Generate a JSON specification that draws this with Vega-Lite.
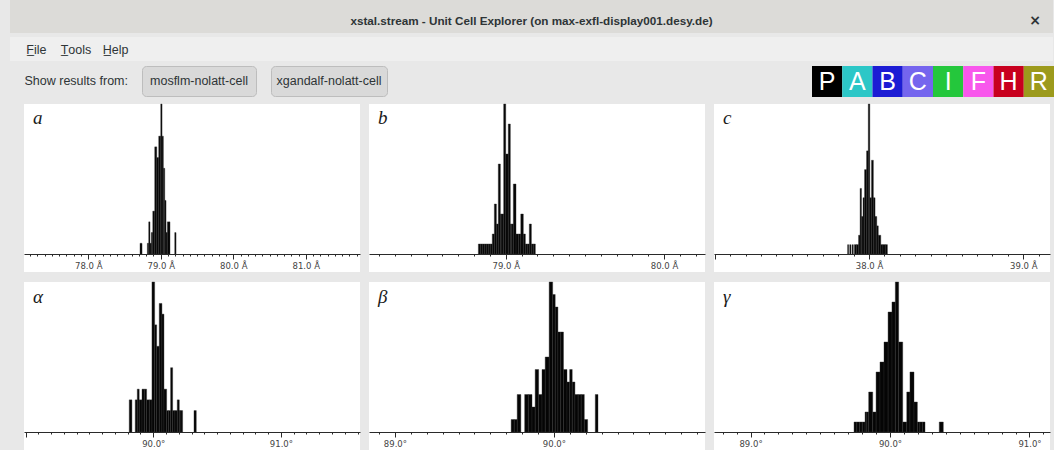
{
  "$schema": "https://vega.github.io/schema/vega-lite/v6.json",
  "background": "#e8e8e8",
  "padding": {"left": 10, "top": 0, "right": 0, "bottom": 0},
  "spacing": 4,
  "config": {"view": {"stroke": null}, "font": "Liberation Sans", "rect": {"fill": "#050505", "stroke": "#2e2e2e", "strokeWidth": 0.4}},
  "datasets": {
    "hist": [
      {"panel":"a","lo":78.714,"hi":78.742,"n":1},
      {"panel":"a","lo":78.815,"hi":78.834,"n":1},
      {"panel":"a","lo":78.834,"hi":78.852,"n":3},
      {"panel":"a","lo":78.852,"hi":78.870,"n":1},
      {"panel":"a","lo":78.870,"hi":78.890,"n":2},
      {"panel":"a","lo":78.890,"hi":78.917,"n":4},
      {"panel":"a","lo":78.917,"hi":78.945,"n":10},
      {"panel":"a","lo":78.945,"hi":78.972,"n":9},
      {"panel":"a","lo":78.972,"hi":79.000,"n":11},
      {"panel":"a","lo":79.000,"hi":79.018,"n":14},
      {"panel":"a","lo":79.018,"hi":79.036,"n":11},
      {"panel":"a","lo":79.036,"hi":79.055,"n":8},
      {"panel":"a","lo":79.055,"hi":79.073,"n":5},
      {"panel":"a","lo":79.073,"hi":79.091,"n":2},
      {"panel":"a","lo":79.091,"hi":79.128,"n":3},
      {"panel":"a","lo":79.193,"hi":79.211,"n":2},

      {"panel":"b","lo":78.827,"hi":78.840,"n":1},
      {"panel":"b","lo":78.840,"hi":78.852,"n":1},
      {"panel":"b","lo":78.852,"hi":78.865,"n":1},
      {"panel":"b","lo":78.865,"hi":78.877,"n":1},
      {"panel":"b","lo":78.877,"hi":78.890,"n":1},
      {"panel":"b","lo":78.890,"hi":78.902,"n":1},
      {"panel":"b","lo":78.902,"hi":78.915,"n":1},
      {"panel":"b","lo":78.915,"hi":78.928,"n":2},
      {"panel":"b","lo":78.928,"hi":78.941,"n":5},
      {"panel":"b","lo":78.941,"hi":78.953,"n":3},
      {"panel":"b","lo":78.953,"hi":78.966,"n":9},
      {"panel":"b","lo":78.966,"hi":78.976,"n":4},
      {"panel":"b","lo":78.976,"hi":78.987,"n":4},
      {"panel":"b","lo":78.987,"hi":79.000,"n":15},
      {"panel":"b","lo":79.000,"hi":79.016,"n":10},
      {"panel":"b","lo":79.016,"hi":79.029,"n":13},
      {"panel":"b","lo":79.029,"hi":79.038,"n":3},
      {"panel":"b","lo":79.038,"hi":79.048,"n":3},
      {"panel":"b","lo":79.048,"hi":79.065,"n":7},
      {"panel":"b","lo":79.065,"hi":79.082,"n":2},
      {"panel":"b","lo":79.082,"hi":79.095,"n":2},
      {"panel":"b","lo":79.095,"hi":79.111,"n":4},
      {"panel":"b","lo":79.111,"hi":79.124,"n":2},
      {"panel":"b","lo":79.124,"hi":79.136,"n":1},
      {"panel":"b","lo":79.136,"hi":79.149,"n":1},
      {"panel":"b","lo":79.149,"hi":79.162,"n":3},
      {"panel":"b","lo":79.162,"hi":79.174,"n":1},
      {"panel":"b","lo":79.174,"hi":79.187,"n":1},

      {"panel":"c","lo":37.861,"hi":37.868,"n":1},
      {"panel":"c","lo":37.875,"hi":37.883,"n":1},
      {"panel":"c","lo":37.890,"hi":37.898,"n":1},
      {"panel":"c","lo":37.905,"hi":37.919,"n":1},
      {"panel":"c","lo":37.919,"hi":37.932,"n":1},
      {"panel":"c","lo":37.932,"hi":37.942,"n":2},
      {"panel":"c","lo":37.942,"hi":37.951,"n":7},
      {"panel":"c","lo":37.951,"hi":37.961,"n":4},
      {"panel":"c","lo":37.961,"hi":37.971,"n":6},
      {"panel":"c","lo":37.971,"hi":37.984,"n":9},
      {"panel":"c","lo":37.984,"hi":37.995,"n":11},
      {"panel":"c","lo":37.995,"hi":38.005,"n":16},
      {"panel":"c","lo":38.005,"hi":38.016,"n":6},
      {"panel":"c","lo":38.016,"hi":38.028,"n":10},
      {"panel":"c","lo":38.028,"hi":38.039,"n":6},
      {"panel":"c","lo":38.039,"hi":38.050,"n":4},
      {"panel":"c","lo":38.050,"hi":38.060,"n":3},
      {"panel":"c","lo":38.060,"hi":38.076,"n":2},
      {"panel":"c","lo":38.076,"hi":38.090,"n":1},
      {"panel":"c","lo":38.090,"hi":38.105,"n":1},
      {"panel":"c","lo":38.105,"hi":38.119,"n":1},

      {"panel":"alpha","lo":89.812,"hi":89.833,"n":3},
      {"panel":"alpha","lo":89.859,"hi":89.875,"n":3},
      {"panel":"alpha","lo":89.875,"hi":89.890,"n":4},
      {"panel":"alpha","lo":89.890,"hi":89.912,"n":3},
      {"panel":"alpha","lo":89.912,"hi":89.930,"n":4},
      {"panel":"alpha","lo":89.930,"hi":89.948,"n":4},
      {"panel":"alpha","lo":89.948,"hi":89.969,"n":3},
      {"panel":"alpha","lo":89.969,"hi":89.990,"n":3},
      {"panel":"alpha","lo":89.990,"hi":90.011,"n":14},
      {"panel":"alpha","lo":90.011,"hi":90.027,"n":10},
      {"panel":"alpha","lo":90.027,"hi":90.047,"n":8},
      {"panel":"alpha","lo":90.047,"hi":90.068,"n":12},
      {"panel":"alpha","lo":90.068,"hi":90.084,"n":11},
      {"panel":"alpha","lo":90.084,"hi":90.105,"n":4},
      {"panel":"alpha","lo":90.105,"hi":90.120,"n":2},
      {"panel":"alpha","lo":90.120,"hi":90.136,"n":2},
      {"panel":"alpha","lo":90.136,"hi":90.152,"n":6},
      {"panel":"alpha","lo":90.152,"hi":90.170,"n":2},
      {"panel":"alpha","lo":90.170,"hi":90.188,"n":2},
      {"panel":"alpha","lo":90.188,"hi":90.204,"n":3},
      {"panel":"alpha","lo":90.204,"hi":90.217,"n":2},
      {"panel":"alpha","lo":90.217,"hi":90.230,"n":2},
      {"panel":"alpha","lo":90.319,"hi":90.337,"n":2},

      {"panel":"beta","lo":89.731,"hi":89.750,"n":1},
      {"panel":"beta","lo":89.750,"hi":89.769,"n":1},
      {"panel":"beta","lo":89.769,"hi":89.792,"n":3},
      {"panel":"beta","lo":89.816,"hi":89.839,"n":3},
      {"panel":"beta","lo":89.839,"hi":89.862,"n":3},
      {"panel":"beta","lo":89.862,"hi":89.882,"n":2},
      {"panel":"beta","lo":89.882,"hi":89.904,"n":5},
      {"panel":"beta","lo":89.904,"hi":89.925,"n":3},
      {"panel":"beta","lo":89.925,"hi":89.945,"n":5},
      {"panel":"beta","lo":89.945,"hi":89.970,"n":6},
      {"panel":"beta","lo":89.970,"hi":89.992,"n":12},
      {"panel":"beta","lo":89.992,"hi":90.008,"n":11},
      {"panel":"beta","lo":90.008,"hi":90.025,"n":10},
      {"panel":"beta","lo":90.025,"hi":90.043,"n":8},
      {"panel":"beta","lo":90.043,"hi":90.060,"n":8},
      {"panel":"beta","lo":90.060,"hi":90.082,"n":5},
      {"panel":"beta","lo":90.082,"hi":90.099,"n":4},
      {"panel":"beta","lo":90.099,"hi":90.115,"n":5},
      {"panel":"beta","lo":90.115,"hi":90.132,"n":4},
      {"panel":"beta","lo":90.132,"hi":90.152,"n":3},
      {"panel":"beta","lo":90.152,"hi":90.171,"n":3},
      {"panel":"beta","lo":90.171,"hi":90.191,"n":3},
      {"panel":"beta","lo":90.191,"hi":90.212,"n":1},
      {"panel":"beta","lo":90.260,"hi":90.277,"n":3},

      {"panel":"gamma","lo":89.742,"hi":89.762,"n":1},
      {"panel":"gamma","lo":89.762,"hi":89.781,"n":1},
      {"panel":"gamma","lo":89.781,"hi":89.801,"n":1},
      {"panel":"gamma","lo":89.801,"hi":89.821,"n":1},
      {"panel":"gamma","lo":89.821,"hi":89.834,"n":2},
      {"panel":"gamma","lo":89.834,"hi":89.847,"n":2},
      {"panel":"gamma","lo":89.847,"hi":89.876,"n":4},
      {"panel":"gamma","lo":89.876,"hi":89.900,"n":2},
      {"panel":"gamma","lo":89.900,"hi":89.928,"n":6},
      {"panel":"gamma","lo":89.928,"hi":89.957,"n":7},
      {"panel":"gamma","lo":89.957,"hi":89.986,"n":9},
      {"panel":"gamma","lo":89.986,"hi":90.014,"n":12},
      {"panel":"gamma","lo":90.014,"hi":90.038,"n":13},
      {"panel":"gamma","lo":90.038,"hi":90.062,"n":15},
      {"panel":"gamma","lo":90.062,"hi":90.091,"n":9},
      {"panel":"gamma","lo":90.091,"hi":90.120,"n":1},
      {"panel":"gamma","lo":90.120,"hi":90.143,"n":4},
      {"panel":"gamma","lo":90.143,"hi":90.172,"n":6},
      {"panel":"gamma","lo":90.172,"hi":90.196,"n":3},
      {"panel":"gamma","lo":90.196,"hi":90.214,"n":1},
      {"panel":"gamma","lo":90.214,"hi":90.233,"n":1},
      {"panel":"gamma","lo":90.233,"hi":90.251,"n":1},
      {"panel":"gamma","lo":90.353,"hi":90.382,"n":1}
    ]
  },
  "vconcat": [
    {
      "width": 1043, "height": 33,
      "view": {"fill": "#dcdbd8"},
      "data": {"values": [{"label": "xstal.stream - Unit Cell Explorer (on max-exfl-display001.desy.de)"}]},
      "layer": [
        {"mark": {"type": "text", "font": "Liberation Sans", "fontSize": 11.7, "fontWeight": "bold", "color": "#2e3436", "dy": 4},
         "encoding": {"text": {"field": "label"}}},
        {"data": {"values": [{"label": "×"}]},
         "mark": {"type": "text", "font": "DejaVu Sans", "fontSize": 14, "fontWeight": "bold", "color": "#2e3436", "align": "right", "dx": -12, "dy": 4},
         "encoding": {"text": {"field": "label"}, "x": {"value": "width"}}}
      ]
    },
    {
      "width": 1043, "height": 24,
      "view": {"fill": "#efefef"},
      "data": {"values": [{"m": "F̲ile"}, {"m": "T̲ools"}, {"m": "H̲elp"}]},
      "mark": {"type": "text", "font": "Liberation Sans", "fontSize": 12.5, "color": "#2e3436", "dy": 1},
      "encoding": {
        "text": {"field": "m"},
        "x": {"field": "m", "type": "nominal", "sort": null, "axis": null,
              "scale": {"type": "band", "paddingInner": 0, "paddingOuter": 0, "range": [6.5, 125.5]}}
      }
    },
    {
      "hconcat": [
        {
          "width": 118, "height": 30,
          "view": {"fill": "#e8e8e8"},
          "data": {"values": [{"label": "Show results from:"}]},
          "mark": {"type": "text", "align": "right", "font": "Liberation Sans", "fontSize": 12.5, "color": "#2e3436"},
          "encoding": {"text": {"field": "label"}, "x": {"value": "width"}}
        },
        {
          "width": 114, "height": 30,
          "view": {"fill": "#d9d9d9", "stroke": "#bdbdbd", "cornerRadius": 4},
          "data": {"values": [{"label": "mosflm-nolatt-cell"}]},
          "mark": {"type": "text", "font": "Liberation Sans", "fontSize": 12.5, "color": "#2e3436"},
          "encoding": {"text": {"field": "label"}}
        },
        {
          "width": 116, "height": 30,
          "view": {"fill": "#d9d9d9", "stroke": "#bdbdbd", "cornerRadius": 4},
          "data": {"values": [{"label": "xgandalf-nolatt-cell"}]},
          "mark": {"type": "text", "font": "Liberation Sans", "fontSize": 12.5, "color": "#2e3436"},
          "encoding": {"text": {"field": "label"}}
        },
        {
          "width": 398, "height": 33,
          "view": {"fill": "#e8e8e8"},
          "data": {"values": [{"label": ""}]},
          "mark": "text",
          "encoding": {"text": {"field": "label"}}
        },
        {
          "width": 242, "height": 31,
          "data": {"values": [{"k": "P"}, {"k": "A"}, {"k": "B"}, {"k": "C"}, {"k": "I"}, {"k": "F"}, {"k": "H"}, {"k": "R"}]},
          "encoding": {
            "x": {"field": "k", "type": "nominal", "sort": null, "scale": {"paddingInner": 0, "paddingOuter": 0}, "axis": null}
          },
          "layer": [
            {"mark": {"type": "rect", "stroke": null},
             "encoding": {
               "y": {"value": 0}, "y2": {"value": "height"},
               "color": {"field": "k", "type": "nominal", "legend": null,
               "scale": {"domain": ["P", "A", "B", "C", "I", "F", "H", "R"],
                         "range": ["#000000", "#2cc7c7", "#1c1cd4", "#7565ee", "#24c73c", "#f857ec", "#c8001e", "#9c9a1c"]}}}},
            {"mark": {"type": "text", "color": "white", "font": "Liberation Sans", "fontSize": 25},
             "encoding": {"text": {"field": "k"}}}
          ]
        }
      ],
      "spacing": 13
    },
    {
      "vconcat": [
        {
          "hconcat": [
            {"width": 5, "height": 168, "view": {"fill": "#e8e8e8"}, "data": {"values": [{"label": ""}]}, "mark": "text", "encoding": {"text": {"field": "label"}}},
            {
              "width": 336, "height": 168,
              "view": {"fill": "white"},
              "layer": [
                {
                  "data": {"name": "hist"},
                  "transform": [{"filter": "datum.panel === 'a'"}],
                  "mark": {"type": "rect"},
                  "encoding": {
                    "x": {"field": "lo", "type": "quantitative", "scale": {"domain": [77.114, 81.748], "nice": false, "zero": false},
                      "axis": {"title": null, "orient": "bottom", "offset": -18, "tickCount": 46, "grid": false, "domainColor": "#2a2a2a", "tickColor": "#2a2a2a",
                        "tickSize": {"condition": {"test": "abs(datum.value-round(datum.value))<1e-6", "value": 5}, "value": 2},
                        "labelPadding": 2, "labelFont": "DejaVu Sans", "labelFontSize": 8.5, "labelColor": "#444444", "labelOverlap": false, "labelFlush": false,
                        "labelExpr": "abs(datum.value-round(datum.value))<1e-6 ? format(datum.value,'.1f')+' Å' : ''"}},
                    "x2": {"field": "hi"},
                    "y": {"field": "n", "type": "quantitative", "scale": {"domain": [-1.68, 14], "nice": false, "zero": false}, "axis": null},
                    "y2": {"datum": 0}
                  }
                },
                {
                  "data": {"values": [{"label": "a"}]},
                  "mark": {"type": "text", "align": "left", "baseline": "alphabetic", "dx": 9, "dy": 20, "font": "Liberation Serif", "fontStyle": "italic", "fontSize": 19, "color": "#1a1a1a"},
                  "encoding": {"text": {"field": "label"}, "x": {"datum": 77.114}, "y": {"datum": 14, "axis": null}}
                }
              ]
            },
            {
              "width": 336, "height": 168,
              "view": {"fill": "white"},
              "layer": [
                {
                  "data": {"name": "hist"},
                  "transform": [{"filter": "datum.panel === 'b'"}],
                  "mark": {"type": "rect"},
                  "encoding": {
                    "x": {"field": "lo", "type": "quantitative", "scale": {"domain": [78.136, 80.259], "nice": false, "zero": false},
                      "axis": {"title": null, "orient": "bottom", "offset": -18, "tickCount": 21, "grid": false, "domainColor": "#2a2a2a", "tickColor": "#2a2a2a",
                        "tickSize": {"condition": {"test": "abs(datum.value-round(datum.value))<1e-6", "value": 5}, "value": 2},
                        "labelPadding": 2, "labelFont": "DejaVu Sans", "labelFontSize": 8.5, "labelColor": "#444444", "labelOverlap": false, "labelFlush": false,
                        "labelExpr": "abs(datum.value-round(datum.value))<1e-6 ? format(datum.value,'.1f')+' Å' : ''"}},
                    "x2": {"field": "hi"},
                    "y": {"field": "n", "type": "quantitative", "scale": {"domain": [-1.8, 15], "nice": false, "zero": false}, "axis": null},
                    "y2": {"datum": 0}
                  }
                },
                {
                  "data": {"values": [{"label": "b"}]},
                  "mark": {"type": "text", "align": "left", "baseline": "alphabetic", "dx": 9, "dy": 20, "font": "Liberation Serif", "fontStyle": "italic", "fontSize": 19, "color": "#1a1a1a"},
                  "encoding": {"text": {"field": "label"}, "x": {"datum": 78.136}, "y": {"datum": 15, "axis": null}}
                }
              ]
            },
            {
              "width": 336, "height": 168,
              "view": {"fill": "white"},
              "layer": [
                {
                  "data": {"name": "hist"},
                  "transform": [{"filter": "datum.panel === 'c'"}],
                  "mark": {"type": "rect"},
                  "encoding": {
                    "x": {"field": "lo", "type": "quantitative", "scale": {"domain": [36.995, 39.173], "nice": false, "zero": false},
                      "axis": {"title": null, "orient": "bottom", "offset": -18, "tickCount": 22, "grid": false, "domainColor": "#2a2a2a", "tickColor": "#2a2a2a",
                        "tickSize": {"condition": {"test": "abs(datum.value-round(datum.value))<1e-6", "value": 5}, "value": 2},
                        "labelPadding": 2, "labelFont": "DejaVu Sans", "labelFontSize": 8.5, "labelColor": "#444444", "labelOverlap": false, "labelFlush": false,
                        "labelExpr": "abs(datum.value-round(datum.value))<1e-6 && datum.value > 37.5 ? format(datum.value,'.1f')+' Å' : ''"}},
                    "x2": {"field": "hi"},
                    "y": {"field": "n", "type": "quantitative", "scale": {"domain": [-1.92, 16], "nice": false, "zero": false}, "axis": null},
                    "y2": {"datum": 0}
                  }
                },
                {
                  "data": {"values": [{"label": "c"}]},
                  "mark": {"type": "text", "align": "left", "baseline": "alphabetic", "dx": 9, "dy": 20, "font": "Liberation Serif", "fontStyle": "italic", "fontSize": 19, "color": "#1a1a1a"},
                  "encoding": {"text": {"field": "label"}, "x": {"datum": 36.995}, "y": {"datum": 16, "axis": null}}
                }
              ]
            }
          ],
          "spacing": 9
        },
        {
          "hconcat": [
            {"width": 5, "height": 168, "view": {"fill": "#e8e8e8"}, "data": {"values": [{"label": ""}]}, "mark": "text", "encoding": {"text": {"field": "label"}}},
            {
              "width": 336, "height": 168,
              "view": {"fill": "white"},
              "layer": [
                {
                  "data": {"name": "hist"},
                  "transform": [{"filter": "datum.panel === 'alpha'"}],
                  "mark": {"type": "rect"},
                  "encoding": {
                    "x": {"field": "lo", "type": "quantitative", "scale": {"domain": [88.988, 91.619], "nice": false, "zero": false},
                      "axis": {"title": null, "orient": "bottom", "offset": -18, "tickCount": 26, "grid": false, "domainColor": "#2a2a2a", "tickColor": "#2a2a2a",
                        "tickSize": {"condition": {"test": "abs(datum.value-round(datum.value))<1e-6", "value": 5}, "value": 2},
                        "labelPadding": 2, "labelFont": "DejaVu Sans", "labelFontSize": 8.5, "labelColor": "#444444", "labelOverlap": false, "labelFlush": false,
                        "labelExpr": "abs(datum.value-round(datum.value))<1e-6 && datum.value > 89.5 ? format(datum.value,'.1f')+'°' : ''"}},
                    "x2": {"field": "hi"},
                    "y": {"field": "n", "type": "quantitative", "scale": {"domain": [-1.68, 14], "nice": false, "zero": false}, "axis": null},
                    "y2": {"datum": 0}
                  }
                },
                {
                  "data": {"values": [{"label": "α"}]},
                  "mark": {"type": "text", "align": "left", "baseline": "alphabetic", "dx": 9, "dy": 21, "font": "Liberation Serif", "fontStyle": "italic", "fontSize": 19, "color": "#1a1a1a"},
                  "encoding": {"text": {"field": "label"}, "x": {"datum": 88.988}, "y": {"datum": 14, "axis": null}}
                }
              ]
            },
            {
              "width": 336, "height": 168,
              "view": {"fill": "white"},
              "layer": [
                {
                  "data": {"name": "hist"},
                  "transform": [{"filter": "datum.panel === 'beta'"}],
                  "mark": {"type": "rect"},
                  "encoding": {
                    "x": {"field": "lo", "type": "quantitative", "scale": {"domain": [88.837, 90.950], "nice": false, "zero": false},
                      "axis": {"title": null, "orient": "bottom", "offset": -18, "tickCount": 21, "grid": false, "domainColor": "#2a2a2a", "tickColor": "#2a2a2a",
                        "tickSize": {"condition": {"test": "abs(datum.value-round(datum.value))<1e-6", "value": 5}, "value": 2},
                        "labelPadding": 2, "labelFont": "DejaVu Sans", "labelFontSize": 8.5, "labelColor": "#444444", "labelOverlap": false, "labelFlush": false,
                        "labelExpr": "abs(datum.value-round(datum.value))<1e-6 ? format(datum.value,'.1f')+'°' : ''"}},
                    "x2": {"field": "hi"},
                    "y": {"field": "n", "type": "quantitative", "scale": {"domain": [-1.44, 12], "nice": false, "zero": false}, "axis": null},
                    "y2": {"datum": 0}
                  }
                },
                {
                  "data": {"values": [{"label": "β"}]},
                  "mark": {"type": "text", "align": "left", "baseline": "alphabetic", "dx": 9, "dy": 21, "font": "Liberation Serif", "fontStyle": "italic", "fontSize": 19, "color": "#1a1a1a"},
                  "encoding": {"text": {"field": "label"}, "x": {"datum": 88.837}, "y": {"datum": 12, "axis": null}}
                }
              ]
            },
            {
              "width": 336, "height": 168,
              "view": {"fill": "white"},
              "layer": [
                {
                  "data": {"name": "hist"},
                  "transform": [{"filter": "datum.panel === 'gamma'"}],
                  "mark": {"type": "rect"},
                  "encoding": {
                    "x": {"field": "lo", "type": "quantitative", "scale": {"domain": [88.738, 91.147], "nice": false, "zero": false},
                      "axis": {"title": null, "orient": "bottom", "offset": -18, "tickCount": 24, "grid": false, "domainColor": "#2a2a2a", "tickColor": "#2a2a2a",
                        "tickSize": {"condition": {"test": "abs(datum.value-round(datum.value))<1e-6", "value": 5}, "value": 2},
                        "labelPadding": 2, "labelFont": "DejaVu Sans", "labelFontSize": 8.5, "labelColor": "#444444", "labelOverlap": false, "labelFlush": false,
                        "labelExpr": "abs(datum.value-round(datum.value))<1e-6 ? format(datum.value,'.1f')+'°' : ''"}},
                    "x2": {"field": "hi"},
                    "y": {"field": "n", "type": "quantitative", "scale": {"domain": [-1.8, 15], "nice": false, "zero": false}, "axis": null},
                    "y2": {"datum": 0}
                  }
                },
                {
                  "data": {"values": [{"label": "γ"}]},
                  "mark": {"type": "text", "align": "left", "baseline": "alphabetic", "dx": 9, "dy": 21, "font": "Liberation Serif", "fontStyle": "italic", "fontSize": 19, "color": "#1a1a1a"},
                  "encoding": {"text": {"field": "label"}, "x": {"datum": 88.738}, "y": {"datum": 15, "axis": null}}
                }
              ]
            }
          ],
          "spacing": 9
        }
      ],
      "spacing": 9
    }
  ]
}
